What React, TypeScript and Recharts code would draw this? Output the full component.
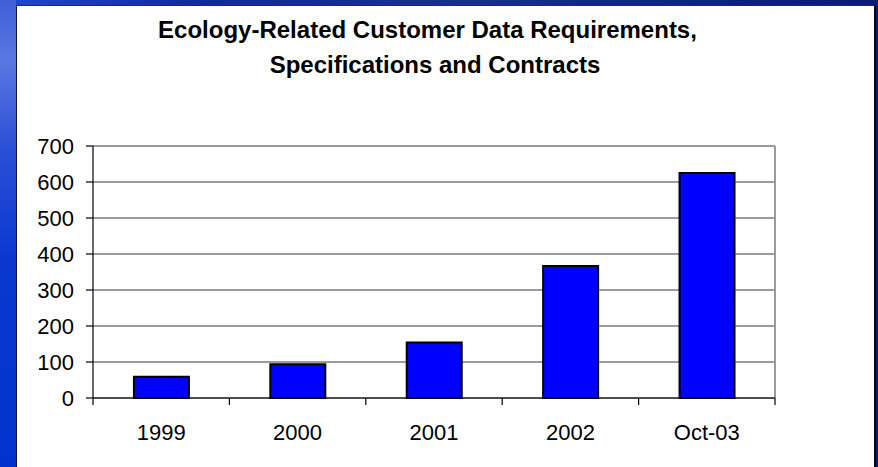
import React from "react";
import { BarChart, Bar, XAxis, YAxis, CartesianGrid } from "recharts";

const categories = ["1999", "2000", "2001", "2002", "Oct-03"];
const requirements = [59, 94, 154, 367, 625];
const yTicks = [0, 100, 200, 300, 400, 500, 600, 700];
const titleLines = ["Ecology-Related Customer Data Requirements,", "Specifications and Contracts"];

const data = categories.map((c, i) => ({ name: c, value: requirements[i] }));

const W = 878;
const H = 467;
const MARGIN = { top: 146, right: 103, left: 0, bottom: 0 };
const Y_AXIS_W = 93;
const X_AXIS_H = 69;
const PLOT_W = W - MARGIN.right - Y_AXIS_W;
const BAND = PLOT_W / categories.length;
const FONT = '"Liberation Sans", Arial, Helvetica, sans-serif';

function XTick(props: any) {
  const { x, y, payload, index } = props;
  const left = x - BAND / 2;
  const right = x + BAND / 2;
  return (
    <g>
      <line x1={left} y1={y} x2={left} y2={y + 7} stroke="#000" strokeWidth={1.2} />
      {index === categories.length - 1 && (
        <line x1={right} y1={y} x2={right} y2={y + 7} stroke="#000" strokeWidth={1.2} />
      )}
      <text x={x} y={y + 42} textAnchor="middle" fontSize={22} fill="#000" fontFamily={FONT}>
        {payload.value}
      </text>
    </g>
  );
}

const titleStyle: React.CSSProperties = {
  position: "absolute",
  left: 0,
  textAlign: "center",
  fontSize: 24,
  fontWeight: "bold",
  lineHeight: "35px",
  color: "#000",
  whiteSpace: "nowrap",
};

export default function App() {
  return (
    <div
      style={{
        position: "absolute",
        left: 0,
        top: 0,
        width: W,
        height: H,
        overflow: "hidden",
        background:
          "linear-gradient(90deg, #2447cf 0px, #112a9a 200px, #1a2f90 450px, #0f2286 700px, #0a1a78 878px)",
        fontFamily: FONT,
      }}
    >
      <div
        style={{
          position: "absolute",
          left: 0,
          top: 0,
          width: 16,
          height: H,
          background:
            "linear-gradient(180deg, #3f5fd8 0px, #5a78e2 60px, #2a4fd6 150px, #0a38cf 260px, #0033cc 467px)",
        }}
      />
      <div
        style={{
          position: "absolute",
          left: 16,
          top: 5,
          width: 857,
          height: H,
          background: "#fff",
          borderLeft: "1px solid #14142e",
          borderTop: "1px solid #2a2a3a",
          borderRight: "2px solid #050510",
        }}
      />
      <div style={{ ...titleStyle, top: 12, width: 855 }}>{titleLines[0]}</div>
      <div style={{ ...titleStyle, top: 47, width: 870 }}>{titleLines[1]}</div>
      <div style={{ position: "absolute", left: 0, top: 0 }}>
        <BarChart
          width={W}
          height={H}
          data={data}
          margin={MARGIN}
          barCategoryGap="30%"
        >
          <CartesianGrid vertical={false} stroke="#3a3a3a" strokeWidth={1.2} />
          <CartesianGrid
            stroke="#9a9a9a"
            strokeWidth={2}
            horizontalCoordinatesGenerator={({ offset }: any) => [offset.top]}
            verticalCoordinatesGenerator={({ offset }: any) => [offset.left + offset.width]}
          />
          <XAxis
            dataKey="name"
            height={X_AXIS_H}
            interval={0}
            tickLine={false}
            tickSize={0}
            tickMargin={0}
            axisLine={{ stroke: "#000", strokeWidth: 1.2 }}
            tick={<XTick />}
          />
          <YAxis
            width={Y_AXIS_W}
            domain={[0, 700]}
            ticks={yTicks}
            interval={0}
            tickSize={7}
            tickMargin={12}
            axisLine={{ stroke: "#000", strokeWidth: 1.2 }}
            tickLine={{ stroke: "#000", strokeWidth: 1.2 }}
            tick={{ fill: "#000", fontSize: 22, fontFamily: FONT }}
          />
          <Bar
            dataKey="value"
            fill="#0000ff"
            stroke="#000"
            strokeWidth={2}
            isAnimationActive={false}
          />
        </BarChart>
      </div>
    </div>
  );
}
